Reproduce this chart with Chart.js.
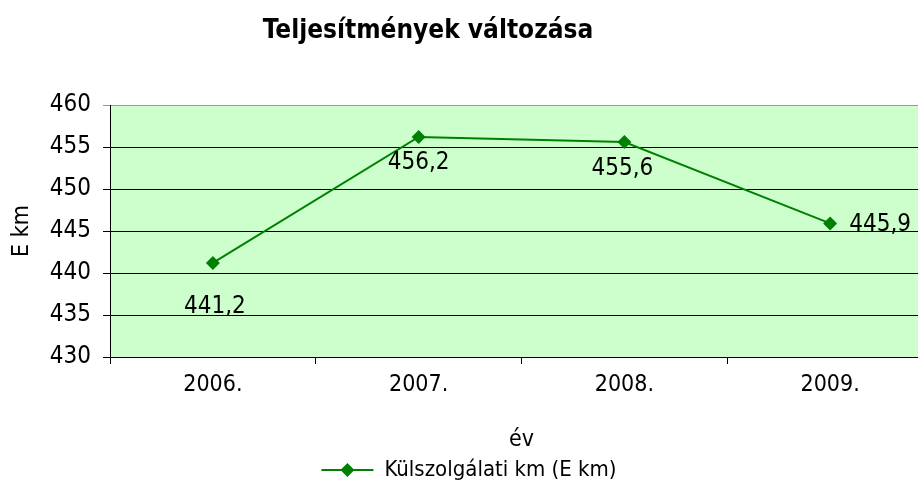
<!DOCTYPE html>
<html lang="hu">
<head>
  <meta charset="UTF-8">
  <title>Teljesítmények változása</title>
  <script src="https://cdn.jsdelivr.net/npm/chart.js"></script>
  <style>
    html, body { margin: 0; padding: 0; background: #fff; }
    #frame { width: 918px; height: 491px; overflow: hidden; }
    #box { width: 940px; height: 491px; position: relative; }
  </style>
</head>
<body>
  <div id="frame"><div id="box"><canvas id="chart"></canvas></div></div>

  <script>
    const years = ['2006.', '2007.', '2008.', '2009.'];
    const kmValues = [441.2, 456.2, 455.6, 445.9];
    const seriesName = 'Külszolgálati km (E km)';
    const chartTitle = 'Teljesítmények változása';

    const FONT = "'DejaVu Sans Condensed', 'DejaVu Sans', sans-serif";
    const GREEN = '#008000';

    // green plot area
    const plotBg = {
      id: 'plotBg',
      beforeDraw(chart) {
        const a = chart.chartArea, ctx = chart.ctx;
        ctx.save();
        ctx.fillStyle = '#CCFFCC';
        ctx.fillRect(a.left, a.top, a.right - a.left, a.bottom - a.top);
        ctx.restore();
      }
    };

    // title, drawn a bit left of centre like the original
    const titleText = {
      id: 'titleText',
      afterDraw(chart) {
        const ctx = chart.ctx;
        ctx.save();
        ctx.font = 'bold 26px ' + FONT;
        ctx.fillStyle = '#000';
        ctx.textAlign = 'center';
        ctx.textBaseline = 'middle';
        ctx.fillText(chartTitle, 428, 31);
        ctx.restore();
      }
    };

    // value labels next to the points
    const offsets = [[2, 44], [0, 26], [-2, 27], [50, 1]];
    const valueLabels = {
      id: 'valueLabels',
      afterDatasetsDraw(chart) {
        const ctx = chart.ctx;
        const meta = chart.getDatasetMeta(0);
        ctx.save();
        ctx.font = '24px ' + FONT;
        ctx.fillStyle = '#000';
        ctx.textAlign = 'center';
        ctx.textBaseline = 'middle';
        meta.data.forEach((pt, i) => {
          const txt = String(kmValues[i]).replace('.', ',');
          ctx.fillText(txt, pt.x + offsets[i][0], pt.y + offsets[i][1]);
        });
        ctx.restore();
      }
    };

    // line through the legend marker
    const legendLine = {
      id: 'legendLine',
      afterDraw(chart) {
        const lg = chart.legend;
        if (!lg || !lg.legendHitBoxes.length) return;
        const hb = lg.legendHitBoxes[0];
        const ctx = chart.ctx;
        const cy = hb.top + hb.height / 2;
        const cx = hb.left + 26;
        ctx.save();
        ctx.strokeStyle = GREEN;
        ctx.lineWidth = 2;
        ctx.beginPath();
        ctx.moveTo(cx - 26, cy);
        ctx.lineTo(cx + 26, cy);
        ctx.stroke();
        ctx.fillStyle = GREEN;
        ctx.beginPath();
        ctx.moveTo(cx, cy - 7);
        ctx.lineTo(cx + 7, cy);
        ctx.lineTo(cx, cy + 7);
        ctx.lineTo(cx - 7, cy);
        ctx.closePath();
        ctx.fill();
        ctx.restore();
      }
    };

    new Chart(document.getElementById('chart'), {
      type: 'line',
      data: {
        labels: years,
        datasets: [{
          label: seriesName,
          data: kmValues,
          borderColor: GREEN,
          backgroundColor: GREEN,
          borderWidth: 2,
          pointStyle: 'rectRot',
          pointRadius: 7,
          pointBorderWidth: 0,
          tension: 0
        }]
      },
      options: {
        responsive: true,
        maintainAspectRatio: false,
        animation: false,
        layout: { padding: { top: 105, left: 0, right: 2, bottom: 0 } },
        plugins: {
          title: { display: false },
          tooltip: { enabled: false },
          legend: {
            position: 'bottom',
            labels: {
              font: { family: FONT, size: 22 },
              color: '#000',
              boxWidth: 52,
              boxHeight: 2,
              padding: 5,
              generateLabels(chart) {
                return [{ text: seriesName, fillStyle: 'rgba(0,0,0,0)', strokeStyle: 'rgba(0,0,0,0)', lineWidth: 0, datasetIndex: 0 }];
              }
            }
          }
        },
        scales: {
          x: {
            offset: true,
            afterFit(scale) {
              scale.height = scale.chart.height - 357 - scale.chart.legend.height;
            },
            grid: { offset: true, drawOnChartArea: false, color: '#000', tickLength: 7 },
            border: { color: '#000', width: 1 },
            ticks: { color: '#000', font: { family: FONT, size: 23 }, padding: 7 },
            title: { display: true, text: 'év', color: '#000', font: { family: FONT, size: 23 }, padding: { top: 10, bottom: 0 } }
          },
          y: {
            min: 430,
            max: 460,
            afterFit(scale) { scale.width = 110; },
            ticks: { stepSize: 5, color: '#000', font: { family: FONT, size: 24 }, padding: 12 },
            grid: {
              color: ctx => ctx.tick && ctx.tick.value === 460 ? '#999' : '#000',
              tickLength: 7,
              lineWidth: 1
            },
            border: { color: '#000', width: 1 },
            title: { display: true, text: 'E km', color: '#000', font: { family: FONT, size: 23 }, padding: { top: 8, bottom: 0 } }
          }
        }
      },
      plugins: [plotBg, titleText, valueLabels, legendLine]
    });
  </script>
</body>
</html>
